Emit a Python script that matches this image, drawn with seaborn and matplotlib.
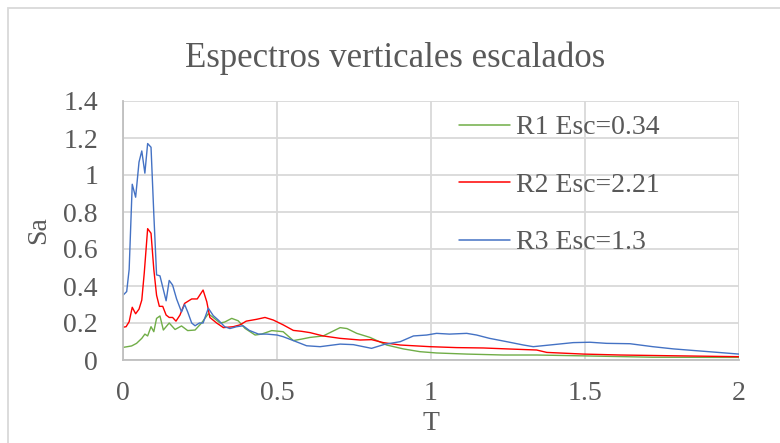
import matplotlib
matplotlib.use("Agg")
import matplotlib.pyplot as plt
import matplotlib.patches as mpatches
import seaborn as sns
import pandas as pd

# ---- data ----
t_r1 = [0, 0.028, 0.044, 0.061, 0.071, 0.08, 0.091, 0.10, 0.109, 0.12, 0.131, 0.15, 0.169, 0.19, 0.21,
        0.234, 0.255, 0.277, 0.293, 0.315, 0.33, 0.353, 0.374, 0.396, 0.429, 0.45, 0.483, 0.52, 0.553,
        0.58, 0.607, 0.65, 0.683, 0.705, 0.727, 0.759, 0.802, 0.856, 0.91, 0.964, 1.018, 1.116, 1.235,
        1.343, 1.505, 1.72, 2.0]
sa_r1 = [0.068, 0.076, 0.09, 0.117, 0.14, 0.13, 0.18, 0.153, 0.225, 0.238, 0.162, 0.2, 0.165, 0.184,
         0.159, 0.162, 0.2, 0.25, 0.23, 0.2, 0.205, 0.225, 0.212, 0.171, 0.135, 0.14, 0.159, 0.153, 0.105,
         0.113, 0.122, 0.13, 0.157, 0.175, 0.17, 0.144, 0.122, 0.081, 0.06, 0.045, 0.038, 0.032, 0.027,
         0.027, 0.022, 0.015, 0.014]

t_r2 = [0, 0.01, 0.02, 0.03, 0.041, 0.052, 0.061, 0.069, 0.08, 0.091, 0.10, 0.109, 0.118, 0.129, 0.14,
        0.15, 0.161, 0.172, 0.185, 0.20, 0.223, 0.241, 0.26, 0.272, 0.282, 0.304, 0.326, 0.358, 0.38,
        0.40, 0.434, 0.461, 0.488, 0.52, 0.553, 0.58, 0.607, 0.65, 0.705, 0.77, 0.807, 0.845, 0.90, 0.997,
        1.083, 1.17, 1.246, 1.343, 1.376, 1.495, 1.614, 1.776, 2.0]
sa_r2 = [0.177, 0.18, 0.207, 0.285, 0.25, 0.275, 0.324, 0.47, 0.71, 0.685, 0.49, 0.35, 0.29, 0.29, 0.243,
         0.23, 0.23, 0.21, 0.243, 0.306, 0.33, 0.33, 0.378, 0.315, 0.23, 0.2, 0.175, 0.18, 0.19, 0.21,
         0.22, 0.23, 0.216, 0.19, 0.16, 0.155, 0.148, 0.13, 0.117, 0.108, 0.11, 0.094, 0.081, 0.072,
         0.067, 0.065, 0.06, 0.054, 0.041, 0.032, 0.027, 0.023, 0.018]

t_r3 = [0, 0.012, 0.02, 0.03, 0.041, 0.052, 0.061, 0.071, 0.08, 0.091, 0.10, 0.109, 0.12, 0.14, 0.15,
        0.161, 0.174, 0.19, 0.20, 0.21, 0.223, 0.234, 0.248, 0.26, 0.277, 0.293, 0.31, 0.33, 0.347,
        0.369, 0.39, 0.41, 0.44, 0.467, 0.50, 0.52, 0.553, 0.596, 0.64, 0.705, 0.748, 0.807, 0.85, 0.90,
        0.943, 0.986, 1.018, 1.06, 1.116, 1.148, 1.19, 1.246, 1.30, 1.332, 1.397, 1.462, 1.516, 1.57,
        1.646, 1.72, 1.787, 1.863, 1.94, 2.0]
sa_r3 = [0.35, 0.37, 0.49, 0.95, 0.88, 1.07, 1.13, 1.01, 1.17, 1.15, 0.79, 0.46, 0.455, 0.32, 0.43,
         0.405, 0.33, 0.26, 0.30, 0.26, 0.2, 0.185, 0.2, 0.2, 0.28, 0.24, 0.215, 0.18, 0.17, 0.18, 0.185,
         0.16, 0.14, 0.14, 0.135, 0.126, 0.105, 0.077, 0.072, 0.086, 0.083, 0.063, 0.085, 0.099, 0.13,
         0.135, 0.144, 0.14, 0.144, 0.135, 0.117, 0.099, 0.081, 0.072, 0.083, 0.094, 0.096, 0.09, 0.088,
         0.072, 0.06, 0.05, 0.04, 0.032]

labels = ["R1 Esc=0.34", "R2 Esc=2.21", "R3 Esc=1.3"]
colors = ["#70AD47", "#FF0000", "#4472C4"]
x_ticks = [0, 0.5, 1, 1.5, 2]
x_ticklabels = ["0", "0.5", "1", "1.5", "2"]
y_ticks = [0, 0.2, 0.4, 0.6, 0.8, 1.0, 1.2, 1.4]
y_ticklabels = ["0", "0.2", "0.4", "0.6", "0.8", "1", "1.2", "1.4"]
title = "Espectros verticales escalados"

frames = []
for lab, t, s in zip(labels, [t_r1, t_r2, t_r3], [sa_r1, sa_r2, sa_r3]):
    frames.append(pd.DataFrame({"T": t, "Sa": s, "Serie": lab}))
df = pd.concat(frames, ignore_index=True)

sns.set_theme(style="white")
plt.rcParams["font.family"] = ["Liberation Serif", "DejaVu Serif"]
txt = "#595959"
grid_c = "#D9D9D9"

W, H = 780, 443
fig = plt.figure(figsize=(W / 100, H / 100), dpi=100)
fig.patch.set_facecolor("white")
x0, x1, y0, y1 = 123, 739, 101, 360
ax = fig.add_axes([x0 / W, 1 - y1 / H, (x1 - x0) / W, (y1 - y0) / H])

# figure border (Excel chart area)
fig.add_artist(mpatches.Rectangle((8 / W, -0.2), 1.2, 1 - 8 / H + 0.2, transform=fig.transFigure,
                                  fill=False, edgecolor="#D9D9D9", linewidth=1.3))

sns.lineplot(data=df, x="T", y="Sa", hue="Serie", palette=dict(zip(labels, colors)),
             estimator=None, sort=False, linewidth=1.0, ax=ax, legend=False)

ax.set_xlim(0, 2)
ax.set_ylim(0, 1.4)
ax.set_xticks(x_ticks)
ax.set_xticklabels(x_ticklabels)
ax.set_yticks(y_ticks)
ax.set_yticklabels(y_ticklabels)
ax.grid(True, color=grid_c, linewidth=1.3)
ax.set_axisbelow(True)
for side in ["top", "right"]:
    ax.spines[side].set_visible(False)
for side in ["left", "bottom"]:
    ax.spines[side].set_color("#BFBFBF")
    ax.spines[side].set_linewidth(1.3)
ax.tick_params(axis="both", length=0, labelsize=20, labelcolor=txt)
ax.tick_params(axis="y", pad=18)
ax.tick_params(axis="x", pad=15)
ax.set_xlabel("T", fontsize=20, color=txt, labelpad=4)
ax.set_ylabel("Sa", fontsize=20, color=txt, labelpad=9)

fig.text(395 / W, 1 - 58 / H, title, ha="center", va="center", fontsize=25, color=txt)

handles = [plt.Line2D([], [], color=c, linewidth=1.1) for c in colors]
leg = ax.legend(handles, labels, loc="upper left", bbox_to_anchor=(459 / W, 1 - 115 / H),
                bbox_transform=fig.transFigure, frameon=False, fontsize=20, labelcolor=txt,
                handlelength=1.84, handletextpad=0.22, labelspacing=1.15, borderpad=0,
                borderaxespad=0)

fig.savefig("out.png", dpi=100, facecolor="white")
